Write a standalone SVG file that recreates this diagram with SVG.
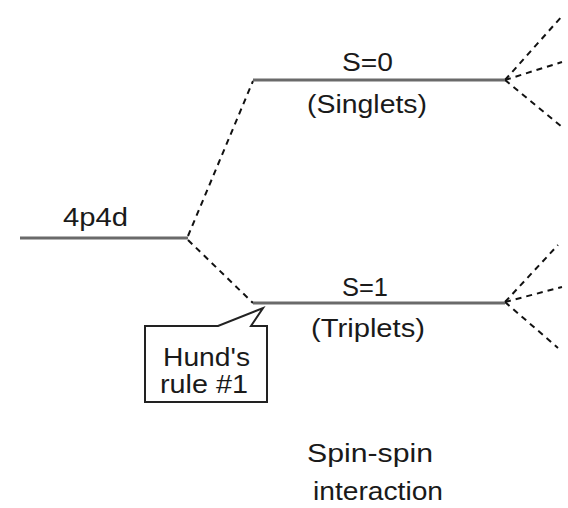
<svg xmlns="http://www.w3.org/2000/svg" width="568" height="508" viewBox="0 0 568 508">
<style>
.lvl{stroke:#6a6a6a;stroke-width:3;fill:none}
.dash{stroke:#111;stroke-width:2;stroke-dasharray:6 5;fill:none}
.t{font-family:"Liberation Sans",Arial,sans-serif;font-size:26px;fill:#1a1a1a}
.box{stroke:#222;stroke-width:2;fill:#fff}
</style>
<rect width="568" height="508" fill="#fff"/>
<g id="connectors">
<path class="dash" d="M188,236 L253,81"/>
<path class="dash" d="M188,240 L253,303"/>
<path class="dash" d="M505,80 L563,15"/>
<path class="dash" d="M505,80 L562,62"/>
<path class="dash" d="M505,80 L562,127"/>
<path class="dash" d="M505,302 L558,245"/>
<path class="dash" d="M505,302 L562,287"/>
<path class="dash" d="M505,302 L558,348"/>
</g>
<g id="level-4p4d">
<line class="lvl" x1="20" y1="238" x2="188" y2="238"/>
<text class="t" x="63" y="226" textLength="65" lengthAdjust="spacingAndGlyphs">4p4d</text>
</g>
<g id="level-S0">
<line class="lvl" x1="253" y1="80" x2="505" y2="80"/>
<text class="t" x="342" y="71" textLength="51" lengthAdjust="spacingAndGlyphs">S=0</text>
<text class="t" x="307" y="113" textLength="120" lengthAdjust="spacingAndGlyphs">(Singlets)</text>
</g>
<g id="level-S1">
<line class="lvl" x1="253" y1="303" x2="505" y2="303"/>
<text class="t" x="342" y="296" textLength="46" lengthAdjust="spacingAndGlyphs">S=1</text>
<text class="t" x="311" y="337" textLength="114" lengthAdjust="spacingAndGlyphs">(Triplets)</text>
</g>
<g id="callout-hund">
<path class="box" d="M145,326 L218,326 L263,308 L251,326 L267,326 L267,402 L145,402 Z"/>
<text class="t" x="163" y="366" textLength="87" lengthAdjust="spacingAndGlyphs">Hund's</text>
<text class="t" x="160" y="393" textLength="88" lengthAdjust="spacingAndGlyphs">rule #1</text>
</g>
<g id="label-spin">
<text class="t" x="307" y="462" textLength="126" lengthAdjust="spacingAndGlyphs">Spin-spin</text>
<text class="t" x="313" y="500" textLength="130" lengthAdjust="spacingAndGlyphs">interaction</text>
</g>
</svg>
